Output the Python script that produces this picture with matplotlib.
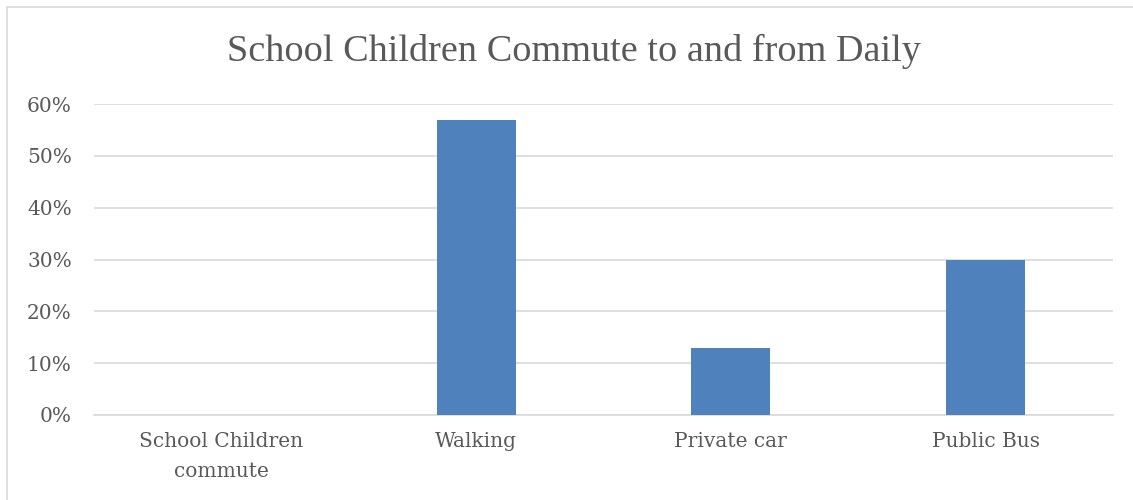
import matplotlib
matplotlib.use("Agg")
import matplotlib.pyplot as plt
from matplotlib.patches import Rectangle
from matplotlib.ticker import PercentFormatter

categories = ["School Children\ncommute", "Walking", "Private car", "Public Bus"]
shares = [0.0, 0.57, 0.13, 0.30]
y_ticks = [0.0, 0.1, 0.2, 0.3, 0.4, 0.5, 0.6]

TEXT = "#595959"
BAR = "#4F81BD"
GRID = "#D9D9D9"
TITLE_FONT = ["Liberation Serif", "DejaVu Serif"]
TICK_FONT = ["DejaVu Serif"]

plt.rcParams["font.family"] = TITLE_FONT

fig = plt.figure(figsize=(11.33, 5.0), dpi=100)
fig.patch.set_facecolor("white")

# chart border
fig.patches.append(Rectangle((7 / 1133, -0.05), 1.2, (500 - 7) / 500 + 0.05,
                             transform=fig.transFigure, fill=False,
                             edgecolor=GRID, linewidth=1.2))

ax = fig.add_axes([94 / 1133, 1 - 415 / 500, (1113 - 94) / 1133, (415 - 104) / 500])
x = range(len(categories))
ax.bar(x, shares, width=0.31, color=BAR, zorder=3)

ax.set_xlim(-0.5, len(categories) - 0.5)
ax.set_ylim(0, 0.6)
ax.set_yticks(y_ticks)
ax.yaxis.set_major_formatter(PercentFormatter(1.0, decimals=0))
ax.set_xticks(list(x))
ax.set_xticklabels(categories, linespacing=1.75)

ax.grid(axis="y", color=GRID, linewidth=1.2, zorder=0)
for side in ["top", "right", "left"]:
    ax.spines[side].set_visible(False)
ax.spines["bottom"].set_color(GRID)
ax.spines["bottom"].set_linewidth(1.2)
ax.tick_params(axis="both", length=0, colors=TEXT, labelsize=14.5)
ax.tick_params(axis="y", pad=16)
ax.tick_params(axis="x", pad=12)
for lbl in ax.get_xticklabels() + ax.get_yticklabels():
    lbl.set_color(TEXT)
    lbl.set_fontfamily(TICK_FONT)

fig.text(574 / 1133, 1 - 51 / 500, "School Children Commute to and from Daily",
         ha="center", va="center", fontsize=27.5, color=TEXT)

fig.savefig("out.png", dpi=100, facecolor="white")
